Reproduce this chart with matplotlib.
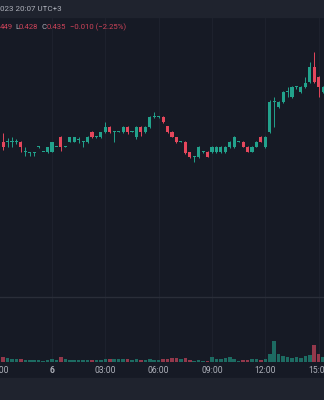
import matplotlib.pyplot as plt
from matplotlib.patches import Rectangle

plt.rcParams['font.family'] = ['Roboto', 'DejaVu Sans']

# 15 minute candles, time in hours from midnight (first candle 21:15 of previous day)
times = [-2.75 + 0.25 * i for i in range(73)]
opens = [0.391, 0.391, 0.391, 0.391, 0.391, 0.383, 0.3822, 0.3822, 0.387, 0.3828,
         0.383, 0.383, 0.3868, 0.3945, 0.387, 0.391, 0.391, 0.3924, 0.391, 0.391,
         0.3985, 0.395, 0.3945, 0.3985, 0.403, 0.399, 0.399, 0.3985, 0.403, 0.399,
         0.3945, 0.403, 0.3985, 0.403, 0.411, 0.411, 0.411, 0.4035, 0.399, 0.395,
         0.391, 0.391, 0.383, 0.379, 0.379, 0.383, 0.383, 0.383, 0.383, 0.383,
         0.383, 0.387, 0.387, 0.391, 0.391, 0.387, 0.383, 0.387, 0.395, 0.387,
         0.399, 0.4228, 0.419, 0.423, 0.431, 0.427, 0.435, 0.431, 0.435, 0.439,
         0.451, 0.443, 0.431]
highs = [0.398, 0.394, 0.3947, 0.393, 0.392, 0.3866, 0.383, 0.383, 0.3875, 0.383,
         0.387, 0.391, 0.387, 0.3955, 0.3875, 0.395, 0.395, 0.395, 0.3915, 0.396,
         0.400, 0.396, 0.399, 0.407, 0.404, 0.400, 0.3995, 0.404, 0.4035, 0.3995,
         0.404, 0.404, 0.404, 0.412, 0.415, 0.412, 0.412, 0.404, 0.3995, 0.395,
         0.3915, 0.392, 0.383, 0.3795, 0.388, 0.384, 0.384, 0.3875, 0.3875, 0.3875,
         0.3875, 0.392, 0.396, 0.3915, 0.3915, 0.3875, 0.3875, 0.3915, 0.3955, 0.396,
         0.4245, 0.427, 0.424, 0.432, 0.435, 0.436, 0.436, 0.436, 0.443, 0.455,
         0.463, 0.444, 0.436]
lows = [0.3844, 0.3866, 0.3866, 0.389, 0.3826, 0.380, 0.380, 0.380, 0.386, 0.3825,
        0.382, 0.383, 0.3866, 0.3835, 0.3865, 0.391, 0.3905, 0.390, 0.387, 0.390,
        0.394, 0.394, 0.394, 0.398, 0.398, 0.391, 0.3985, 0.398, 0.397, 0.3985,
        0.393, 0.396, 0.398, 0.402, 0.410, 0.410, 0.406, 0.398, 0.3945, 0.390,
        0.3905, 0.381, 0.378, 0.375, 0.378, 0.382, 0.3785, 0.382, 0.382, 0.382,
        0.382, 0.386, 0.386, 0.3905, 0.3865, 0.3825, 0.3825, 0.3865, 0.3905, 0.386,
        0.398, 0.403, 0.418, 0.422, 0.427, 0.426, 0.433, 0.430, 0.434, 0.438,
        0.438, 0.427, 0.430]
closes = [0.3865, 0.3912, 0.391, 0.391, 0.3865, 0.383, 0.3822, 0.3822, 0.3872, 0.3828,
          0.387, 0.391, 0.3868, 0.3865, 0.387, 0.3945, 0.3945, 0.3924, 0.391, 0.395,
          0.3945, 0.395, 0.3985, 0.403, 0.3985, 0.399, 0.399, 0.403, 0.3985, 0.399,
          0.403, 0.3985, 0.403, 0.411, 0.411, 0.411, 0.407, 0.399, 0.395, 0.391,
          0.391, 0.3817, 0.379, 0.379, 0.387, 0.383, 0.379, 0.387, 0.387, 0.387,
          0.387, 0.391, 0.395, 0.391, 0.387, 0.383, 0.387, 0.391, 0.391, 0.395,
          0.423, 0.4232, 0.423, 0.431, 0.431, 0.435, 0.435, 0.435, 0.438, 0.451,
          0.439, 0.435, 0.435]
volumes = [50, 40, 30, 30, 30, 20, 20, 20, 20, 10,
           20, 30, 20, 50, 30, 20, 20, 20, 20, 20,
           20, 20, 20, 30, 30, 30, 30, 30, 30, 20,
           30, 20, 20, 30, 20, 20, 30, 30, 40, 40,
           30, 40, 20, 10, 20, 10, 10, 50, 30, 30,
           40, 50, 30, 10, 20, 20, 30, 30, 20, 30,
           80, 210, 80, 60, 50, 40, 50, 40, 60, 70,
           170, 80, 50]

tick_hours = [-3, 0, 3, 6, 9, 12, 15]
tick_labels = ['21:00', '6', '03:00', '06:00', '09:00', '12:00', '15:00']

bg = '#161a25'
panel = '#1f232e'
grid = '#1d212d'
up = '#22a28c'
down = '#e5475c'
vol_up = '#1d6b62'
vol_down = '#93384b'
txt = '#aeb1ba'

fig = plt.figure(figsize=(3.24, 4.0), dpi=100, facecolor=bg)
fig.patches.append(Rectangle((0, 1 - 17 / 400), 1, 17 / 400, transform=fig.transFigure, color=panel, zorder=0))
fig.patches.append(Rectangle((0, 0), 1, 22 / 400, transform=fig.transFigure, color=panel, zorder=0))

ax = fig.add_axes([0, 0.2575, 1, 0.70])
axv = fig.add_axes([0, 0.09625, 1, 0.16125])
for a in (ax, axv):
    a.set_facecolor(bg)
    a.set_xlim(-2.925, 15.3)
    for s in a.spines.values():
        s.set_visible(False)
    a.set_xticks([])
    a.set_yticks([])
    for h in tick_hours:
        a.axvline(h, color=grid, lw=0.8, zorder=0)

ax.set_ylim(0.2668, 0.4908)
axv.set_ylim(0, 645)

for t, o, hi, lo, c, v in zip(times, opens, highs, lows, closes, volumes):
    col = up if c >= o else down
    ax.vlines(t, lo, hi, color=col, lw=0.7, zorder=2)
    ax.bar(t, max(abs(c - o), 0.0008), bottom=min(o, c), width=0.17, color=col, lw=0, zorder=3)
    axv.bar(t, v, width=0.2, color=vol_up if c >= o else vol_down, lw=0)

# pane separator
fig.add_artist(plt.Line2D([0, 1], [0.2575, 0.2575], color='#2a2e39', lw=1))

# time axis labels
for h, lab in zip(tick_hours, tick_labels):
    axv.text(h, -0.132, lab, transform=axv.get_xaxis_transform(), ha='center', va='center',
             color=txt, fontsize=6.2, fontweight='bold' if lab == '6' else 'normal', clip_on=False)

# legend rows
fig.text(0.0, 1 - 9 / 400, '023 20:07 UTC+3', color=txt, fontsize=5.8, va='center')
legend_red = '#cc4359'
row_y = 1 - 27 / 400
parts = [(0, '449', legend_red), (15, 'L', txt), (19, '0.428', legend_red),
         (41.5, 'C', txt), (46.5, '0.435', legend_red), (70.5, '\u22120.010 (\u22122.25%)', legend_red)]
for px, s, col in parts:
    fig.text(px / 324, row_y, s, color=col, fontsize=5.6, va='center')

plt.savefig('out.png', dpi=100, facecolor=bg)
